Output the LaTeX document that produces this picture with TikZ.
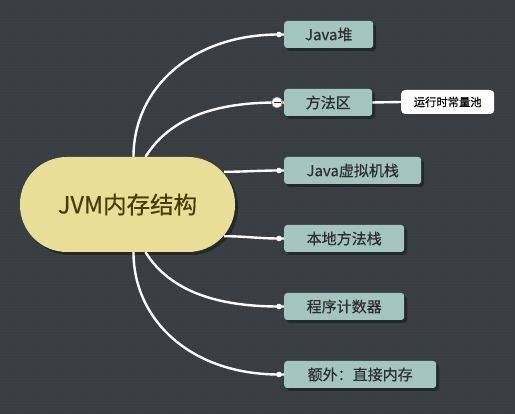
\documentclass[tikz,border=0pt]{standalone}
\usepackage{fontspec}
\setmainfont{Noto Sans CJK SC}
\newfontfamily\medfont{Noto Sans CJK SC}[FakeBold=0.4]
\usetikzlibrary{calc,patterns}
\definecolor{bg}{HTML}{3A3F43}
\definecolor{bgdot}{HTML}{30353A}
\definecolor{core}{HTML}{E8DE95}
\definecolor{coretext}{HTML}{4A3A05}
\definecolor{leaf}{HTML}{A2C5BE}
\definecolor{leaftext}{HTML}{2E2E2E}
\tikzset{
  leafbox/.style={fill=leaf, rounded corners=3pt, minimum height=27pt, inner sep=0pt,
    anchor=west, text=leaftext, font=\medfont\fontsize{15}{15}\selectfont},
  shadowbox/.style={fill=black, opacity=0.35, rounded corners=3pt},
  link/.style={draw=white, line width=2.4pt},
  enddot/.style={fill=white},
  notebox/.style={fill=white, rounded corners=4pt, minimum width=93pt, minimum height=24pt,
    inner sep=0pt, anchor=west, text=black, font=\medfont\fontsize{11.3}{11.3}\selectfont}
}
\begin{document}
\begin{tikzpicture}[x=1pt,y=-1pt]
\fill[bg] (0,0) rectangle (515,414);
\fill[pattern=dots, pattern color=bgdot] (0,0) rectangle (515,414);
\useasboundingbox (0,0) rectangle (515,414);

% shadows
\fill[black, opacity=0.35, rounded corners=47pt] (23,160) rectangle (238,255);
\foreach \y/\w in {21/89, 89/88, 157/137, 225/120, 293/120, 361/152}{
  \fill[shadowbox] (287,\y+3) rectangle (284+\w+3,\y+30);
}

% central node
\node[fill=core, rounded corners=47pt, minimum width=215pt, minimum height=95pt, inner sep=0pt,
  text=coretext, font=\medfont\fontsize{23.5}{23.5}\selectfont] (c) at (127.5,204.5) {JVM内存结构};

% leaves
\node[leafbox, minimum width=89pt]  (k1) at (284,34.5)  {Java堆};
\node[leafbox, minimum width=88pt]  (k2) at (284,102.5) {方法区};
\node[leafbox, minimum width=137pt] (k3) at (284,170.5) {Java虚拟机栈};
\node[leafbox, minimum width=120pt] (k4) at (284,238.5) {本地方法栈};
\node[leafbox, minimum width=120pt] (k5) at (284,306.5) {程序计数器};
\node[leafbox, minimum width=152pt] (k6) at (284,374.5) {额外：直接内存};

\node[notebox] (n1) at (401,102) {运行时常量池};

% connectors
\coordinate (e1) at ([xshift=-5pt]k1.west);
\coordinate (e2) at ([xshift=-7pt]k2.west);
\coordinate (e3) at ([xshift=-5pt]k3.west);
\coordinate (e4) at ([xshift=-5pt]k4.west);
\coordinate (e5) at ([xshift=-5pt]k5.west);
\coordinate (e6) at ([xshift=-5pt]k6.west);
\coordinate (s1) at ([xshift=6pt]c.north);
\coordinate (s2) at ([xshift=18pt]c.north);
\coordinate (s5) at ([xshift=18pt]c.south);
\coordinate (s6) at ([xshift=6pt]c.south);
\coordinate (s3) at ($(c.north east)+(-11,15)$);
\coordinate (s4) at ($(c.south east)+(-11,-16)$);

\draw[link] (s1) .. controls ($(s1)+(0,-68)$) and ($(e1)+(-88,0)$) .. (e1) -- (k1.west);
\draw[link] (s2) .. controls ($(s2)+(25,-40)$) and ($(e2)+(-60,0)$) .. (e2) -- (k2.west);
\draw[link] (s3) .. controls ($(s3)+(20,0)$) and ($(e3)+(-20,0)$) .. (e3) -- (k3.west);
\draw[link] (s4) .. controls ($(s4)+(20,0)$) and ($(e4)+(-20,0)$) .. (e4) -- (k4.west);
\draw[link] (s5) .. controls ($(s5)+(25,40)$) and ($(e5)+(-60,0)$) .. (e5) -- (k5.west);
\draw[link] (s6) .. controls ($(s6)+(0,68)$) and ($(e6)+(-88,0)$) .. (e6) -- (k6.west);
\draw[link] (k2.east) -- (n1.west);

\foreach \e in {e1,e3,e4,e5,e6}{ \fill[enddot] (\e) circle (2.8pt); }
% collapse marker
\filldraw[fill=white, draw=leaftext!60, line width=0.6pt] (e2) circle (5.5pt);
\draw[leaftext, line width=1.2pt] ($(e2)+(-3.5,0)$) -- ($(e2)+(3.5,0)$);
\end{tikzpicture}
\end{document}
